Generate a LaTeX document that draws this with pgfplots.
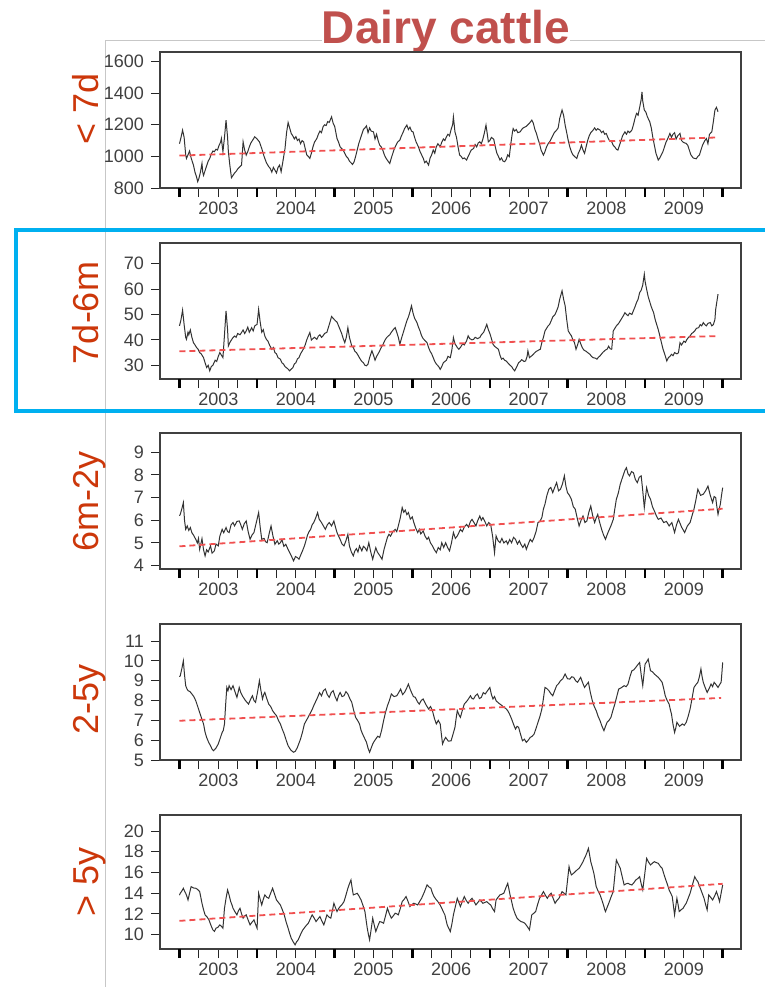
\documentclass[border=0pt]{standalone}
\usepackage{fontspec}
\setmainfont{Liberation Sans}
\usepackage{pgfplots}
\pgfplotsset{compat=1.18}
\definecolor{ttl}{RGB}{192,80,77}
\definecolor{ylab}{RGB}{204,55,10}
\definecolor{frameblue}{RGB}{0,176,240}
\definecolor{trend}{RGB}{240,80,80}
\pgfplotsset{
  panel/.style={
    anchor=south west, scale only axis, width=290.5pt, height=68pt,
    xmin=-0.251, xmax=7.236,
    axis line style={black!75, line width=0.8pt},
    tick pos=left, tick align=outside,
    major tick length=4.5pt, minor tick length=4.5pt,
    every tick/.style={black!85, line width=0.5pt},
    xtick={0.5,1.5,2.5,3.5,4.5,5.5,6.5},
    xticklabels={2003,2004,2005,2006,2007,2008,2009},
    minor xtick={0,0.25,...,7},
    extra x ticks={0,1,2,3,4,5,6,7}, extra x tick labels={},
    extra x tick style={tick style={line width=1.3pt, black}},
    ticklabel style={font=\fontsize{9}{10}\selectfont, text=black!75},
    xticklabel style={yshift=1pt},
    /pgf/number format/assume math mode=true,
    /pgf/number format/1000 sep={},
    scaled y ticks=false,
  },
  ser/.style={black!80, line width=0.5pt, mark=none},
  tr/.style={trend, line width=0.9pt, dash pattern=on 3pt off 2pt, mark=none},
}
\begin{document}
\begin{tikzpicture}
\useasboundingbox (0,0) rectangle (382.5pt,-493.5pt);
\draw[black!22, line width=0.5pt] (52.5pt,-493.5pt) -- (52.5pt,-20pt) -- (382.5pt,-20pt);
\node[anchor=base, fill=white, inner sep=0pt, text=ttl, font=\fontsize{23}{27}\selectfont\bfseries] at (223pt,-21.7pt) {Dairy cattle};
\draw[frameblue, line width=2.2pt] (390pt,-115pt) -- (8pt,-115pt) -- (8pt,-205.5pt) -- (390pt,-205.5pt);
\foreach \lab/\yy in {{< 7d}/-54.5pt, {7d-6m}/-156.5pt, {6m-2y}/-250.5pt, {2-5y}/-349.5pt, {> 5y}/-441pt}{
  \node[rotate=90, anchor=base, text=ylab, font=\fontsize{18}{20}\selectfont, inner sep=0pt] at (49.25pt,\yy) {\lab};
}
% Panel 1
\begin{axis}[panel, at={(80pt,-94pt)}, ymin=800, ymax=1660, ytick={800,1000,1200,1400,1600}]
\addplot[ser] coordinates {(0.00,1080)(0.02,1120)(0.04,1166)(0.06,1120)(0.08,1010)(0.09,987)(0.11,1010)(0.13,1034)(0.15,990)(0.17,960)(0.18,945)(0.20,900)(0.22,870)(0.235,840)(0.25,860)(0.27,900)(0.29,955)(0.30,900)(0.31,880)(0.33,910)(0.35,940)(0.37,970)(0.39,987)(0.41,1015)(0.43,1034)(0.45,1030)(0.47,1045)(0.49,1040)(0.51,1070)(0.53,1090)(0.54,1113)(0.56,1030)(0.58,1120)(0.60,1229)(0.62,1120)(0.63,1030)(0.65,940)(0.67,865)(0.69,880)(0.71,895)(0.73,905)(0.75,920)(0.78,935)(0.80,945)(0.82,1092)(0.84,1040)(0.86,1008)(0.88,1030)(0.90,1060)(0.92,1085)(0.94,1100)(0.97,1124)(1.00,1110)(1.03,1092)(1.06,1050)(1.09,1000)(1.12,960)(1.15,935)(1.17,924)(1.19,900)(1.21,930)(1.23,913)(1.25,895)(1.27,930)(1.29,945)(1.31,903)(1.33,960)(1.36,1050)(1.38,1150)(1.40,1214)(1.42,1180)(1.44,1145)(1.46,1130)(1.48,1110)(1.50,1125)(1.52,1100)(1.54,1110)(1.56,1080)(1.58,1100)(1.60,1092)(1.62,1050)(1.64,1010)(1.66,1000)(1.68,987)(1.70,1020)(1.72,1060)(1.74,1090)(1.77,1113)(1.79,1140)(1.81,1160)(1.83,1150)(1.85,1187)(1.87,1200)(1.89,1195)(1.91,1220)(1.93,1215)(1.96,1250)(1.98,1210)(2.00,1190)(2.03,1113)(2.05,1090)(2.07,1060)(2.09,1050)(2.11,1040)(2.13,1020)(2.15,1000)(2.17,990)(2.19,970)(2.21,960)(2.23,949)(2.25,965)(2.27,1000)(2.29,1040)(2.31,1080)(2.33,1110)(2.35,1140)(2.37,1170)(2.39,1180)(2.41,1193)(2.43,1150)(2.45,1180)(2.47,1160)(2.50,1155)(2.52,1110)(2.54,1140)(2.56,1100)(2.58,1071)(2.60,1060)(2.62,1040)(2.64,1010)(2.66,990)(2.68,975)(2.71,955)(2.73,990)(2.75,1020)(2.77,1050)(2.79,1070)(2.81,1090)(2.84,1103)(2.86,1130)(2.88,1150)(2.90,1175)(2.93,1198)(2.95,1170)(2.97,1185)(2.99,1160)(3.01,1155)(3.03,1120)(3.05,1090)(3.08,1060)(3.10,1030)(3.12,1010)(3.14,990)(3.16,960)(3.18,970)(3.21,945)(3.23,990)(3.25,1010)(3.27,1040)(3.29,1020)(3.31,1061)(3.33,1080)(3.36,1061)(3.38,1090)(3.40,1110)(3.42,1100)(3.44,1124)(3.46,1140)(3.48,1130)(3.50,1170)(3.52,1200)(3.53,1250)(3.55,1155)(3.57,1120)(3.59,1060)(3.61,1008)(3.63,1000)(3.65,985)(3.67,990)(3.70,977)(3.72,1000)(3.74,1020)(3.76,1040)(3.79,1050)(3.81,1075)(3.83,1060)(3.85,1085)(3.87,1092)(3.89,1080)(3.91,1110)(3.93,1150)(3.95,1198)(3.97,1130)(3.98,1092)(4.00,1100)(4.02,1120)(4.05,1108)(4.07,1060)(4.09,1020)(4.11,1000)(4.13,977)(4.15,990)(4.17,970)(4.19,966)(4.21,980)(4.23,1010)(4.25,998)(4.27,1080)(4.29,1150)(4.30,1176)(4.32,1160)(4.34,1170)(4.36,1150)(4.39,1155)(4.41,1170)(4.43,1180)(4.45,1185)(4.47,1190)(4.49,1200)(4.51,1210)(4.54,1229)(4.56,1210)(4.58,1170)(4.60,1145)(4.62,1110)(4.64,1080)(4.66,1040)(4.69,1008)(4.71,1030)(4.73,1060)(4.75,1080)(4.77,1092)(4.79,1110)(4.81,1130)(4.83,1150)(4.86,1166)(4.88,1180)(4.90,1240)(4.93,1293)(4.95,1260)(4.97,1198)(4.99,1150)(5.01,1100)(5.03,1060)(5.05,1030)(5.07,1010)(5.09,1000)(5.12,987)(5.14,1020)(5.16,1040)(5.18,1071)(5.20,1040)(5.22,1019)(5.24,1060)(5.26,1100)(5.28,1130)(5.30,1150)(5.33,1166)(5.35,1180)(5.37,1165)(5.39,1175)(5.42,1166)(5.44,1150)(5.46,1160)(5.48,1140)(5.50,1145)(5.52,1120)(5.54,1100)(5.57,1092)(5.59,1070)(5.61,1060)(5.63,1045)(5.65,1040)(5.67,1070)(5.69,1100)(5.71,1130)(5.74,1155)(5.76,1140)(5.78,1160)(5.80,1150)(5.83,1166)(5.85,1200)(5.87,1240)(5.89,1272)(5.91,1260)(5.93,1310)(5.95,1360)(5.96,1408)(5.97,1350)(5.99,1293)(6.01,1280)(6.03,1250)(6.06,1219)(6.08,1180)(6.10,1120)(6.12,1070)(6.14,1020)(6.17,977)(6.19,990)(6.21,1010)(6.23,1030)(6.25,1060)(6.27,1090)(6.29,1110)(6.32,1145)(6.34,1120)(6.36,1140)(6.38,1150)(6.40,1110)(6.42,1130)(6.45,1145)(6.47,1100)(6.49,1090)(6.51,1085)(6.53,1082)(6.55,1070)(6.57,1040)(6.59,1010)(6.62,990)(6.64,987)(6.66,985)(6.68,1000)(6.70,1008)(6.72,1040)(6.74,1070)(6.77,1100)(6.79,1113)(6.81,1080)(6.83,1140)(6.86,1155)(6.88,1220)(6.90,1293)(6.92,1310)(6.94,1282)};
\addplot[tr] coordinates {(0,1005)(6.95,1120)};
\end{axis}
% Panel 2
\begin{axis}[panel, at={(80pt,-189.5pt)}, ymin=24.6, ymax=78.1, ytick={30,40,50,60,70}]
\addplot[ser] coordinates {(0.00,45.5)(0.02,48)(0.04,51.7)(0.06,46)(0.08,41)(0.09,40.2)(0.11,43)(0.12,42)(0.14,43.9)(0.16,41)(0.18,38.9)(0.20,38)(0.22,37)(0.24,36.3)(0.26,35)(0.28,34.5)(0.31,33)(0.33,31)(0.35,29.1)(0.37,30)(0.39,27.8)(0.41,29.5)(0.43,30)(0.46,32)(0.48,31.5)(0.50,33.5)(0.52,35)(0.54,34)(0.56,33)(0.58,42)(0.60,51.4)(0.62,44)(0.63,37.6)(0.65,39)(0.67,40)(0.69,40.9)(0.71,41.5)(0.73,41)(0.75,42.5)(0.78,42)(0.80,42.9)(0.82,43.9)(0.84,42.5)(0.86,43.5)(0.88,45)(0.90,43)(0.93,44.8)(0.95,43.5)(0.97,45.5)(1.00,46.1)(1.02,52)(1.04,47)(1.06,43)(1.08,44)(1.10,41.5)(1.12,40.2)(1.14,39.5)(1.16,38)(1.19,36.3)(1.21,37)(1.23,35)(1.25,34.5)(1.27,33)(1.30,32.4)(1.32,31)(1.34,30.5)(1.36,29.5)(1.38,29)(1.40,28.5)(1.42,27.8)(1.44,28.5)(1.46,29)(1.48,30.5)(1.50,31)(1.52,32.5)(1.54,33)(1.56,34.5)(1.58,35.5)(1.60,36.6)(1.62,38)(1.64,40)(1.66,41.5)(1.68,42.9)(1.70,39.9)(1.72,40.5)(1.74,41)(1.77,40.2)(1.79,41.5)(1.81,42)(1.83,41)(1.85,41.6)(1.87,42.5)(1.90,43)(1.92,45)(1.94,47)(1.96,49.2)(1.98,48.5)(2.01,47.5)(2.03,47)(2.05,45.5)(2.07,44)(2.09,42.5)(2.11,40.5)(2.13,38.9)(2.15,41)(2.17,44.8)(2.19,41)(2.22,37.6)(2.24,37)(2.26,35.5)(2.28,35)(2.30,34)(2.33,32.4)(2.35,31.5)(2.37,31)(2.39,30)(2.41,29.8)(2.43,30.5)(2.45,33)(2.48,35.7)(2.50,34)(2.52,32)(2.54,33.5)(2.56,34.5)(2.58,35.7)(2.60,37)(2.62,38)(2.65,40)(2.67,40.9)(2.69,41.5)(2.71,42)(2.73,43)(2.76,44.2)(2.78,44.8)(2.80,43)(2.82,41)(2.84,38.3)(2.86,40.5)(2.88,42.5)(2.90,44.5)(2.93,47.5)(2.95,49)(2.97,51)(2.99,53.4)(3.01,50.5)(3.03,48.5)(3.06,46.8)(3.08,45)(3.10,43.5)(3.12,41.6)(3.14,40.5)(3.17,39.5)(3.19,38.9)(3.21,37)(3.23,35.5)(3.25,34.5)(3.27,33)(3.29,31.5)(3.31,30.5)(3.34,29.5)(3.36,28.4)(3.38,29.5)(3.40,31)(3.42,31.5)(3.44,32)(3.46,33.5)(3.49,33)(3.51,36)(3.53,40.9)(3.55,38.5)(3.58,37)(3.60,36.3)(3.62,37)(3.65,38.5)(3.67,38)(3.70,39.6)(3.72,41.6)(3.74,40.5)(3.77,40)(3.79,40.2)(3.81,41)(3.84,40.5)(3.87,40.9)(3.89,42)(3.92,43)(3.94,44.5)(3.96,46.1)(3.98,44)(4.00,42.5)(4.02,40.5)(4.04,38.3)(4.06,37.5)(4.08,37)(4.11,36.3)(4.13,34)(4.15,32.4)(4.17,32.8)(4.19,32)(4.21,31.7)(4.23,31)(4.26,30)(4.28,29.5)(4.30,28.5)(4.32,27.8)(4.34,29)(4.37,31)(4.39,31.5)(4.41,32.2)(4.44,31.5)(4.46,31.7)(4.48,33.5)(4.49,35.7)(4.51,33)(4.53,33.5)(4.55,34)(4.58,35)(4.60,35.5)(4.63,36)(4.65,36.3)(4.67,39)(4.69,41)(4.71,43.5)(4.73,44.5)(4.75,45.5)(4.77,46.1)(4.79,47.5)(4.81,49)(4.84,50)(4.86,51.4)(4.88,53)(4.90,56)(4.93,59.3)(4.95,56)(4.97,53.4)(4.99,48)(5.01,43.5)(5.03,42.5)(5.05,41.6)(5.07,40)(5.09,38.9)(5.11,36.3)(5.13,38)(5.15,40.2)(5.17,38.5)(5.19,37)(5.21,36)(5.24,35.5)(5.26,35)(5.29,34.3)(5.31,33.5)(5.33,33)(5.36,32.8)(5.38,32.4)(5.40,33.2)(5.42,33.7)(5.44,34.5)(5.46,35.2)(5.49,36)(5.51,36.3)(5.53,37.5)(5.55,36.5)(5.57,36.3)(5.59,43.5)(5.61,44.5)(5.63,45.5)(5.66,46.5)(5.68,47.5)(5.70,48.5)(5.72,49.5)(5.74,50.7)(5.76,50)(5.78,49.5)(5.80,50.5)(5.83,50)(5.85,51.5)(5.87,53)(5.89,54.7)(5.91,56)(5.93,58.6)(5.95,59.5)(5.97,61.6)(5.99,65.8)(6.00,63)(6.02,59.9)(6.04,57)(6.06,55)(6.08,53)(6.11,50.7)(6.13,48)(6.15,46)(6.17,44)(6.19,41.6)(6.21,39)(6.23,36.5)(6.26,33.7)(6.28,31.7)(6.30,33)(6.32,33.5)(6.34,34.3)(6.36,33.8)(6.38,35)(6.41,34.5)(6.43,34.9)(6.45,38.9)(6.47,38)(6.50,39.5)(6.52,39)(6.54,40.2)(6.56,41)(6.58,41.5)(6.60,42.5)(6.62,42.9)(6.64,43.5)(6.66,44.5)(6.69,44.8)(6.71,46)(6.73,45.5)(6.75,46.8)(6.77,46)(6.79,45.5)(6.81,46.5)(6.84,46.8)(6.86,45.5)(6.88,46)(6.90,48)(6.91,52)(6.93,56)(6.94,58)};
\addplot[tr] coordinates {(0,35.5)(6.95,41.5)};
\end{axis}
% Panel 3
\begin{axis}[panel, at={(80pt,-284.5pt)}, ymin=3.85, ymax=9.85, ytick={4,5,6,7,8,9}]
\addplot[ser] coordinates {(0.00,6.2)(0.01,6.26)(0.03,6.5)(0.05,6.78)(0.065,6.0)(0.08,5.6)(0.10,5.75)(0.12,5.55)(0.14,5.68)(0.16,5.45)(0.18,5.35)(0.21,5.16)(0.23,5.0)(0.245,5.2)(0.26,4.72)(0.275,4.95)(0.29,5.19)(0.31,4.7)(0.33,4.43)(0.35,4.7)(0.37,4.6)(0.40,4.87)(0.42,4.55)(0.45,4.65)(0.47,4.95)(0.50,4.87)(0.52,5.3)(0.55,5.6)(0.57,5.45)(0.60,5.68)(0.62,5.5)(0.64,5.46)(0.665,5.8)(0.69,5.9)(0.71,5.75)(0.74,5.95)(0.77,5.97)(0.79,5.8)(0.81,5.6)(0.835,5.85)(0.86,5.97)(0.885,5.5)(0.91,5.16)(0.935,5.35)(0.96,5.46)(0.99,5.9)(1.02,6.34)(1.04,5.7)(1.06,5.16)(1.09,5.2)(1.11,5.05)(1.13,5.01)(1.155,5.4)(1.18,5.75)(1.205,5.3)(1.23,4.94)(1.26,5.1)(1.28,4.95)(1.30,5.01)(1.32,5.15)(1.345,4.85)(1.37,4.94)(1.395,4.75)(1.42,4.57)(1.445,4.4)(1.47,4.21)(1.495,4.4)(1.52,4.35)(1.54,4.28)(1.56,4.45)(1.585,4.65)(1.61,4.87)(1.63,5.1)(1.65,5.35)(1.67,5.5)(1.69,5.6)(1.71,5.8)(1.73,5.9)(1.755,6.1)(1.78,6.34)(1.80,6.05)(1.83,5.9)(1.855,5.75)(1.88,5.6)(1.905,5.8)(1.93,5.9)(1.96,5.75)(1.99,5.97)(2.01,5.7)(2.03,5.46)(2.05,5.3)(2.07,5.16)(2.095,4.95)(2.12,4.87)(2.145,5.1)(2.17,5.38)(2.19,4.87)(2.215,4.6)(2.24,4.43)(2.26,4.65)(2.28,4.75)(2.30,4.6)(2.32,4.87)(2.35,4.65)(2.37,4.85)(2.39,4.79)(2.415,4.65)(2.44,5.01)(2.465,4.6)(2.49,4.28)(2.51,4.55)(2.53,4.79)(2.55,4.6)(2.58,4.45)(2.61,4.28)(2.635,4.7)(2.66,5.01)(2.68,5.25)(2.70,5.38)(2.72,5.3)(2.75,5.5)(2.78,5.6)(2.80,5.5)(2.82,5.75)(2.845,6.1)(2.87,6.56)(2.89,6.35)(2.91,6.45)(2.93,6.25)(2.95,6.34)(2.975,6.05)(3.00,6.15)(3.02,5.9)(3.045,5.65)(3.07,5.46)(3.09,5.6)(3.11,5.4)(3.14,5.53)(3.165,5.3)(3.19,5.16)(3.21,5.25)(3.235,5.0)(3.26,4.87)(3.285,4.7)(3.31,4.57)(3.335,4.8)(3.36,4.7)(3.38,5.01)(3.405,4.8)(3.43,5.01)(3.455,4.8)(3.48,4.65)(3.505,5.0)(3.53,5.46)(3.555,5.2)(3.58,5.31)(3.60,5.45)(3.62,5.6)(3.645,5.5)(3.67,5.7)(3.70,5.82)(3.725,5.7)(3.75,5.95)(3.77,6.04)(3.795,5.9)(3.82,5.75)(3.845,6.0)(3.87,6.19)(3.89,6.0)(3.91,6.12)(3.935,5.95)(3.96,5.75)(3.985,5.9)(4.01,5.82)(4.035,5.3)(4.06,4.57)(4.08,5.31)(4.105,5.1)(4.13,5.01)(4.155,5.2)(4.18,5.0)(4.21,5.09)(4.23,4.95)(4.255,5.15)(4.28,5.01)(4.305,5.25)(4.33,5.16)(4.355,4.95)(4.38,5.1)(4.40,4.94)(4.425,4.8)(4.45,4.95)(4.47,4.72)(4.495,4.95)(4.52,5.16)(4.545,5.05)(4.57,5.24)(4.595,5.5)(4.62,5.9)(4.645,5.95)(4.67,6.12)(4.69,6.5)(4.71,6.71)(4.735,7.1)(4.76,7.37)(4.785,7.45)(4.81,7.22)(4.835,7.45)(4.86,7.66)(4.885,7.3)(4.91,7.37)(4.935,7.6)(4.96,7.96)(4.98,7.5)(5.00,7.22)(5.025,7.1)(5.05,6.93)(5.075,6.6)(5.10,6.49)(5.125,6.1)(5.15,5.75)(5.175,6.0)(5.20,6.19)(5.225,5.9)(5.25,5.97)(5.275,6.35)(5.30,6.63)(5.325,6.2)(5.35,5.9)(5.37,6.1)(5.39,6.26)(5.415,5.9)(5.44,5.6)(5.465,5.35)(5.49,5.16)(5.515,5.4)(5.54,5.6)(5.565,5.8)(5.59,6.04)(5.61,6.5)(5.63,6.93)(5.655,7.2)(5.68,7.59)(5.70,7.8)(5.72,8.0)(5.74,8.2)(5.76,8.32)(5.78,8.05)(5.80,7.96)(5.825,8.15)(5.85,8.10)(5.875,7.8)(5.90,7.66)(5.925,7.9)(5.95,7.96)(5.97,7.3)(5.99,6.56)(6.005,7.0)(6.02,7.44)(6.045,7.1)(6.07,6.93)(6.095,6.6)(6.12,6.41)(6.145,6.2)(6.17,6.04)(6.205,6.1)(6.24,5.9)(6.275,5.95)(6.31,5.75)(6.345,5.9)(6.38,5.46)(6.405,5.8)(6.43,6.04)(6.47,5.7)(6.51,5.46)(6.545,5.75)(6.58,5.9)(6.605,6.2)(6.63,6.49)(6.655,6.9)(6.68,7.37)(6.715,7.1)(6.75,7.15)(6.78,7.3)(6.81,7.51)(6.84,7.1)(6.87,6.78)(6.89,7.05)(6.91,7.0)(6.925,6.6)(6.94,6.26)(6.955,6.5)(6.97,6.71)(6.985,7.1)(7.00,7.44)};
\addplot[tr] coordinates {(0,4.85)(7,6.51)};
\end{axis}
% Panel 4
\begin{axis}[panel, at={(80pt,-380pt)}, ymin=5, ymax=11.86, ytick={5,6,7,8,9,10,11}]
\addplot[ser] coordinates {(0.00,9.2)(0.01,9.25)(0.03,9.6)(0.05,10.0)(0.065,9.3)(0.08,8.75)(0.095,8.6)(0.11,8.5)(0.135,8.45)(0.16,8.33)(0.185,8.2)(0.21,7.99)(0.235,7.7)(0.26,7.4)(0.285,7.1)(0.31,6.82)(0.33,6.4)(0.35,6.14)(0.375,5.9)(0.40,5.72)(0.42,5.55)(0.44,5.47)(0.47,5.6)(0.50,5.81)(0.525,6.1)(0.55,6.39)(0.565,6.5)(0.58,6.82)(0.595,7.8)(0.61,8.66)(0.625,8.5)(0.64,8.75)(0.665,8.55)(0.69,8.75)(0.715,8.45)(0.74,8.16)(0.755,8.4)(0.77,8.66)(0.79,8.4)(0.81,8.24)(0.85,8.0)(0.89,7.82)(0.915,8.05)(0.94,8.24)(0.96,8.0)(0.98,7.91)(1.005,8.4)(1.03,9.0)(1.05,8.5)(1.07,8.08)(1.085,8.3)(1.10,8.41)(1.125,8.1)(1.15,7.82)(1.175,7.7)(1.20,7.49)(1.225,7.35)(1.25,7.24)(1.275,7.0)(1.30,6.82)(1.325,6.55)(1.35,6.31)(1.375,6.0)(1.40,5.72)(1.435,5.5)(1.47,5.39)(1.495,5.45)(1.52,5.64)(1.54,5.85)(1.56,6.06)(1.585,6.4)(1.61,6.82)(1.65,7.1)(1.69,7.4)(1.71,7.55)(1.73,7.74)(1.755,7.95)(1.78,8.16)(1.805,8.4)(1.83,8.24)(1.855,8.5)(1.88,8.58)(1.905,8.3)(1.93,8.16)(1.955,8.4)(1.98,8.5)(2.005,8.2)(2.03,7.99)(2.05,8.25)(2.07,8.41)(2.095,8.2)(2.12,8.24)(2.145,8.45)(2.17,8.33)(2.195,8.1)(2.22,7.91)(2.245,7.5)(2.27,7.15)(2.295,7.0)(2.32,6.82)(2.34,6.5)(2.36,6.31)(2.385,6.1)(2.41,5.89)(2.43,5.6)(2.45,5.39)(2.47,5.6)(2.49,5.81)(2.51,5.95)(2.53,6.06)(2.555,6.2)(2.58,6.14)(2.605,6.5)(2.63,6.98)(2.655,7.4)(2.68,7.74)(2.705,8.0)(2.73,8.33)(2.765,8.2)(2.80,8.24)(2.825,8.4)(2.85,8.58)(2.875,8.3)(2.90,8.41)(2.925,8.6)(2.95,8.83)(2.97,8.6)(2.99,8.41)(3.015,8.2)(3.04,8.16)(3.065,7.95)(3.09,7.82)(3.115,8.0)(3.14,8.08)(3.175,7.8)(3.21,7.57)(3.235,7.7)(3.26,7.49)(3.285,7.1)(3.31,6.82)(3.335,7.0)(3.36,6.82)(3.375,6.3)(3.39,5.81)(3.41,6.0)(3.43,6.14)(3.465,5.95)(3.50,5.97)(3.525,6.3)(3.55,6.65)(3.565,7.1)(3.58,7.49)(3.60,7.3)(3.62,7.15)(3.645,7.5)(3.67,7.82)(3.71,8.0)(3.75,8.24)(3.77,8.1)(3.79,8.08)(3.815,8.25)(3.84,8.33)(3.865,8.1)(3.89,8.16)(3.915,8.4)(3.94,8.33)(3.97,8.5)(4.00,8.66)(4.02,8.3)(4.04,8.08)(4.06,8.2)(4.08,7.99)(4.105,7.9)(4.13,7.82)(4.155,7.75)(4.18,7.66)(4.205,7.6)(4.23,7.49)(4.255,7.3)(4.28,7.07)(4.305,6.8)(4.33,6.56)(4.35,6.7)(4.37,6.65)(4.395,6.3)(4.42,5.97)(4.445,6.05)(4.47,5.89)(4.495,6.0)(4.52,6.14)(4.545,6.2)(4.57,6.31)(4.595,6.6)(4.62,6.9)(4.645,7.2)(4.67,7.57)(4.69,8.1)(4.71,8.66)(4.735,8.6)(4.76,8.5)(4.785,8.35)(4.81,8.24)(4.835,8.5)(4.86,8.75)(4.885,8.85)(4.91,9.0)(4.94,9.1)(4.97,9.34)(5.00,9.1)(5.03,9.08)(5.055,9.2)(5.08,9.17)(5.105,9.0)(5.13,8.92)(5.15,9.05)(5.17,9.17)(5.195,8.9)(5.22,8.66)(5.245,8.8)(5.27,8.92)(5.295,8.4)(5.32,7.99)(5.345,7.7)(5.37,7.49)(5.395,7.2)(5.42,6.98)(5.445,6.7)(5.47,6.48)(5.49,6.7)(5.51,6.9)(5.535,7.0)(5.56,7.15)(5.585,7.5)(5.61,7.82)(5.635,8.2)(5.66,8.58)(5.695,8.65)(5.73,8.75)(5.755,8.7)(5.78,8.83)(5.805,9.2)(5.83,9.5)(5.855,9.55)(5.88,9.67)(5.905,9.8)(5.93,9.92)(5.95,9.3)(5.97,8.75)(5.985,9.3)(6.00,9.84)(6.02,9.95)(6.04,10.09)(6.055,9.8)(6.07,9.5)(6.095,9.45)(6.12,9.34)(6.145,9.25)(6.17,9.17)(6.195,9.05)(6.22,8.92)(6.24,8.6)(6.26,8.24)(6.285,8.0)(6.31,7.82)(6.325,7.55)(6.34,7.32)(6.36,6.8)(6.38,6.39)(6.395,6.6)(6.41,6.9)(6.445,6.7)(6.48,6.82)(6.505,6.75)(6.53,6.9)(6.555,7.2)(6.58,7.57)(6.605,8.1)(6.63,8.66)(6.655,8.8)(6.68,8.92)(6.70,9.2)(6.72,9.59)(6.735,9.2)(6.75,8.92)(6.775,8.65)(6.80,8.41)(6.825,8.6)(6.85,8.83)(6.87,8.7)(6.89,8.92)(6.915,8.8)(6.94,8.66)(6.96,8.8)(6.98,8.92)(6.99,9.4)(7.00,9.92)};
\addplot[tr] coordinates {(0,6.98)(6.98,8.13)};
\end{axis}
% Panel 5
\begin{axis}[panel, at={(80pt,-474.5pt)}, height=67pt, ymin=8.6, ymax=21.55, ytick={10,12,14,16,18,20}]
\addplot[ser] coordinates {(0.00,13.8)(0.01,13.99)(0.03,14.2)(0.05,14.47)(0.065,14.2)(0.08,13.99)(0.095,13.7)(0.11,13.34)(0.13,14.0)(0.15,14.63)(0.18,14.5)(0.21,14.47)(0.235,14.35)(0.26,14.15)(0.275,13.6)(0.29,13.02)(0.31,12.4)(0.33,11.9)(0.355,11.7)(0.38,11.41)(0.405,10.9)(0.43,10.45)(0.45,10.3)(0.47,10.61)(0.495,10.7)(0.52,10.93)(0.54,10.8)(0.56,10.61)(0.57,11.6)(0.58,12.54)(0.60,13.5)(0.62,14.31)(0.64,13.8)(0.66,13.18)(0.675,12.9)(0.69,12.54)(0.715,12.2)(0.74,11.9)(0.76,12.3)(0.78,12.54)(0.80,12.0)(0.82,11.58)(0.84,11.8)(0.86,11.9)(0.885,11.4)(0.91,10.93)(0.935,11.2)(0.96,11.41)(0.98,11.0)(1.00,10.61)(1.01,12.3)(1.02,13.99)(1.04,13.4)(1.06,12.86)(1.08,13.4)(1.10,13.83)(1.125,13.6)(1.15,13.5)(1.175,14.0)(1.20,14.47)(1.225,13.9)(1.25,13.34)(1.275,13.1)(1.30,12.86)(1.325,12.4)(1.35,11.9)(1.375,11.2)(1.40,10.61)(1.42,10.1)(1.44,9.65)(1.465,9.3)(1.49,9.0)(1.51,9.3)(1.53,9.49)(1.56,10.0)(1.59,10.45)(1.625,10.8)(1.66,11.09)(1.685,11.5)(1.71,11.9)(1.735,11.6)(1.76,11.25)(1.785,11.5)(1.81,11.74)(1.835,11.3)(1.86,10.93)(1.88,11.4)(1.90,11.9)(1.925,11.7)(1.95,11.58)(1.97,12.3)(1.99,13.02)(2.01,12.6)(2.03,12.22)(2.05,12.5)(2.07,12.7)(2.095,12.9)(2.12,13.18)(2.145,13.8)(2.17,14.47)(2.19,14.9)(2.21,15.27)(2.225,14.5)(2.24,13.83)(2.265,13.9)(2.29,13.99)(2.315,13.7)(2.34,13.34)(2.365,12.8)(2.39,12.22)(2.405,11.4)(2.42,10.61)(2.435,10.0)(2.45,9.49)(2.47,10.5)(2.49,11.58)(2.51,10.9)(2.53,10.29)(2.555,10.8)(2.58,11.25)(2.605,11.2)(2.63,11.09)(2.655,11.8)(2.68,12.54)(2.705,12.0)(2.73,11.58)(2.755,11.8)(2.78,12.06)(2.80,12.0)(2.82,11.9)(2.845,12.5)(2.87,13.18)(2.895,13.4)(2.92,13.67)(2.945,13.2)(2.97,12.7)(2.995,12.9)(3.02,13.02)(3.045,12.95)(3.07,12.86)(3.095,13.2)(3.12,13.5)(3.155,14.1)(3.19,14.79)(3.215,14.6)(3.24,14.47)(3.26,14.0)(3.28,13.67)(3.305,13.4)(3.33,13.18)(3.355,12.9)(3.38,12.54)(3.40,12.2)(3.42,11.9)(3.435,11.4)(3.45,10.93)(3.47,10.6)(3.49,10.29)(3.51,11.0)(3.53,11.9)(3.555,12.7)(3.58,13.5)(3.60,13.1)(3.62,12.7)(3.645,13.2)(3.67,13.67)(3.695,13.3)(3.72,13.02)(3.745,13.3)(3.77,13.5)(3.795,13.2)(3.82,12.86)(3.845,13.1)(3.87,13.34)(3.89,13.2)(3.91,13.02)(3.935,13.1)(3.96,13.18)(3.985,13.0)(4.01,12.86)(4.035,12.5)(4.06,12.22)(4.07,12.8)(4.08,13.34)(4.105,13.6)(4.13,13.83)(4.155,13.9)(4.18,13.99)(4.205,14.5)(4.23,14.95)(4.245,14.4)(4.26,13.83)(4.28,13.2)(4.30,12.54)(4.325,12.0)(4.35,11.58)(4.375,11.4)(4.40,11.25)(4.425,11.2)(4.45,11.09)(4.48,10.8)(4.51,10.45)(4.525,11.2)(4.54,11.9)(4.565,12.05)(4.59,12.22)(4.615,12.9)(4.64,13.5)(4.665,13.8)(4.69,14.15)(4.715,13.8)(4.74,13.5)(4.765,13.8)(4.79,13.99)(4.815,13.5)(4.84,13.02)(4.865,13.3)(4.89,13.5)(4.91,13.8)(4.93,14.15)(4.955,14.0)(4.98,13.83)(5.00,15.2)(5.02,16.56)(5.035,16.1)(5.05,15.76)(5.075,15.9)(5.10,16.08)(5.125,16.25)(5.15,16.4)(5.175,16.7)(5.20,17.04)(5.215,17.3)(5.23,17.52)(5.25,17.9)(5.27,18.33)(5.285,17.7)(5.30,17.04)(5.32,16.5)(5.34,15.92)(5.355,15.3)(5.37,14.63)(5.395,14.2)(5.42,13.83)(5.445,13.3)(5.47,12.7)(5.48,12.4)(5.49,12.22)(5.515,12.7)(5.54,13.18)(5.565,13.7)(5.59,14.15)(5.61,15.7)(5.63,17.2)(5.655,16.8)(5.68,16.4)(5.705,15.6)(5.73,14.79)(5.755,14.9)(5.78,14.95)(5.805,14.85)(5.83,14.79)(5.855,15.0)(5.88,15.27)(5.905,15.4)(5.93,15.59)(5.95,14.9)(5.97,14.31)(5.995,15.8)(6.02,17.36)(6.045,17.0)(6.07,16.72)(6.095,16.9)(6.12,17.04)(6.145,16.95)(6.17,16.88)(6.195,16.6)(6.22,16.4)(6.24,15.9)(6.26,15.43)(6.285,14.9)(6.31,14.31)(6.33,14.0)(6.35,13.67)(6.365,12.8)(6.38,11.9)(6.395,12.7)(6.41,13.5)(6.425,12.9)(6.44,12.22)(6.465,12.4)(6.49,12.54)(6.51,12.8)(6.53,13.02)(6.555,13.5)(6.58,13.99)(6.61,14.8)(6.64,15.59)(6.66,15.3)(6.68,15.11)(6.70,14.7)(6.72,14.31)(6.74,13.9)(6.76,13.5)(6.78,12.9)(6.80,12.38)(6.81,13.1)(6.82,13.83)(6.845,13.6)(6.87,13.34)(6.895,13.7)(6.92,14.15)(6.94,13.7)(6.96,13.18)(6.98,14.0)(7.00,14.79)};
\addplot[tr] coordinates {(0,11.32)(7,14.9)};
\end{axis}
\end{tikzpicture}
\end{document}
